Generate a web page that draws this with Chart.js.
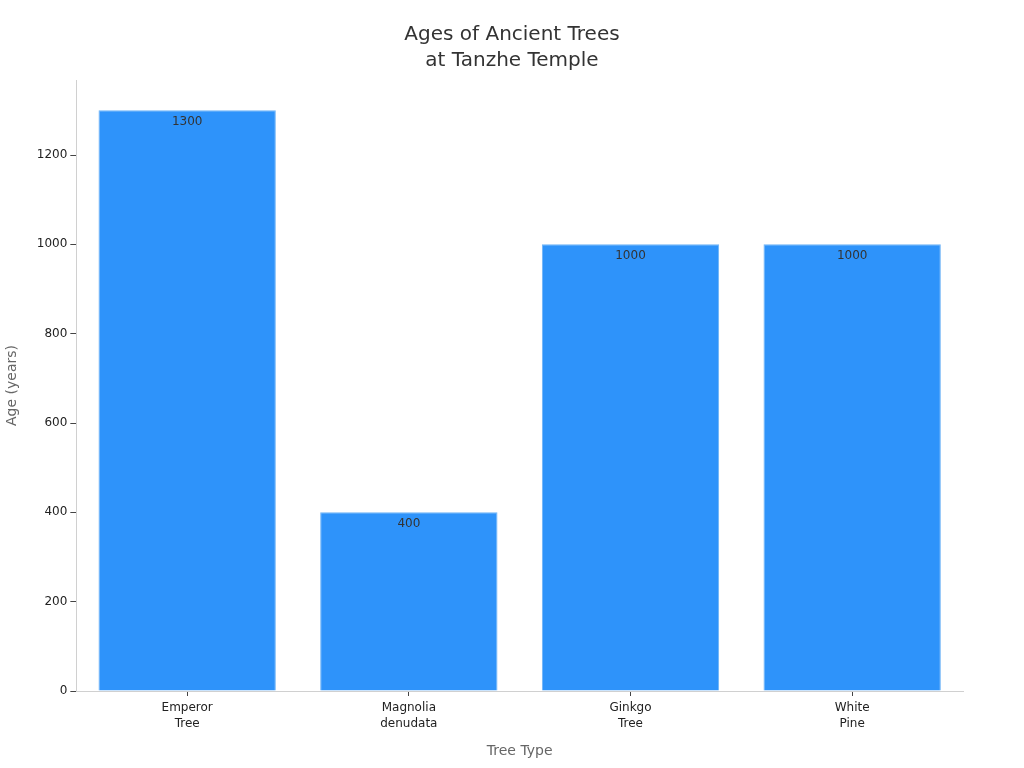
<!DOCTYPE html>
<html>
<head>
<meta charset="utf-8">
<script src="https://cdn.jsdelivr.net/npm/chart.js@4/dist/chart.umd.min.js"></script>
<style>
  html, body { margin: 0; padding: 0; background: #fff; }
  #wrap { width: 1024px; height: 768px; }
</style>
</head>
<body>
<div id="wrap"><canvas id="myChart"></canvas></div>
<script>
const categories = [['Emperor', 'Tree'], ['Magnolia', 'denudata'], ['Ginkgo', 'Tree'], ['White', 'Pine']];
const ages = [1300, 400, 1000, 1000];
const yTicks = [0, 200, 400, 600, 800, 1000, 1200];

Chart.defaults.font.family = 'DejaVu Sans, sans-serif';

// value labels just inside the top of each bar
const barLabels = {
    id: 'barLabels',
    afterDatasetsDraw(chart) {
        const ctx = chart.ctx;
        const meta = chart.getDatasetMeta(0);
        ctx.save();
        ctx.font = '12px DejaVu Sans, sans-serif';
        ctx.fillStyle = '#333';
        ctx.textAlign = 'center';
        ctx.textBaseline = 'middle';
        meta.data.forEach(function (bar, i) {
            ctx.fillText(String(ages[i]), bar.x, bar.y + 12);
        });
        ctx.restore();
    }
};

const ctx = document.getElementById('myChart').getContext('2d');
new Chart(ctx, {
    type: 'bar',
    data: {
        labels: categories,
        datasets: [{
            data: ages,
            backgroundColor: '#2e93fa',
            borderColor: '#6db3f7',
            borderWidth: 1,
            barPercentage: 0.8,
            categoryPercentage: 1.0
        }]
    },
    options: {
        responsive: true,
        maintainAspectRatio: false,
        animation: false,
        layout: { padding: { left: 0, right: 0, top: 10, bottom: 4 } },
        plugins: {
            legend: { display: false },
            tooltip: { enabled: false },
            title: {
                display: true,
                text: ['Ages of Ancient Trees', 'at Tanzhe Temple'],
                color: '#333',
                font: { size: 20, weight: 'normal', lineHeight: 1.3 },
                padding: { top: 12, bottom: 6 }
            }
        },
        scales: {
            x: {
                grid: { display: true, offset: false, drawOnChartArea: false, tickLength: 5, color: '#444' },
                border: { color: '#d0d0d0' },
                ticks: { color: '#222', font: { size: 12, lineHeight: 1.3 }, padding: 4 },
                title: { display: true, text: 'Tree Type', color: '#666', font: { size: 14 }, padding: { top: 8 } }
            },
            y: {
                min: 0,
                max: 1368,
                afterBuildTicks: function (scale) {
                    scale.ticks = yTicks.map(function (v) { return { value: v }; });
                },
                grid: { display: true, drawOnChartArea: false, tickLength: 6, color: '#444' },
                border: { color: '#d0d0d0' },
                ticks: {
                    color: '#222',
                    font: { size: 12 },
                    padding: 3,
                    callback: function (v) { return String(v); }
                },
                title: { display: true, text: 'Age (years)', color: '#666', font: { size: 14 }, padding: { top: 4, bottom: 13 } }
            },
            // empty right-hand space, kept out of the title's width
            yPad: {
                position: 'right',
                display: true,
                grid: { display: false },
                border: { display: false },
                ticks: { display: false },
                afterFit: function (scale) { scale.width = 61; }
            }
        }
    },
    plugins: [barLabels]
});
</script>
</body>
</html>
